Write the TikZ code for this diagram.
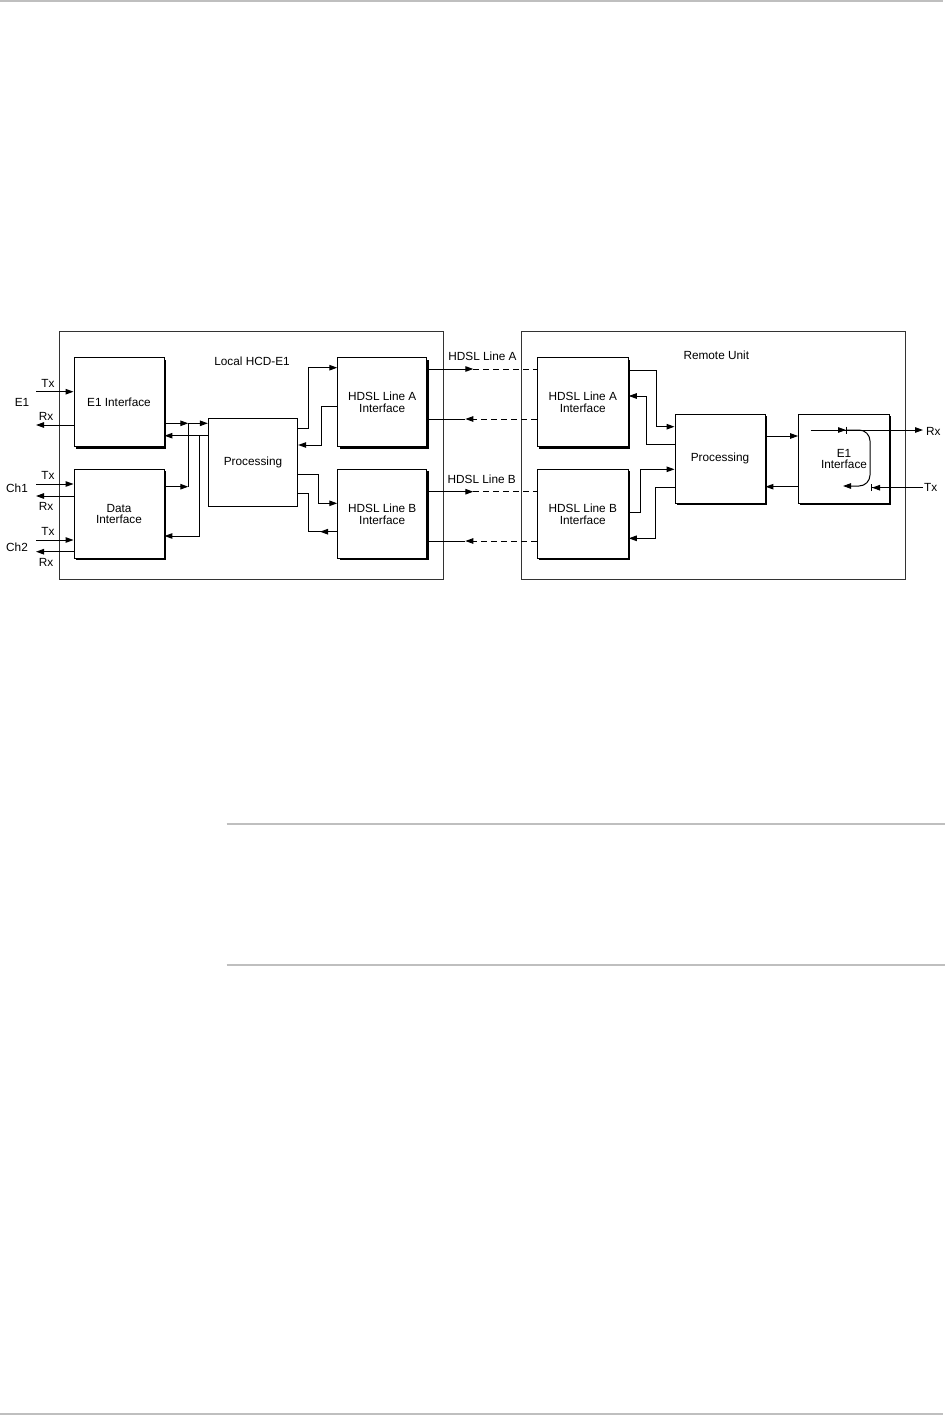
\documentclass[tikz,border=0pt]{standalone}
\usepackage{fontspec}
\setmainfont{Liberation Sans}
\usetikzlibrary{arrows.meta,shadows}
\begin{document}
\begin{tikzpicture}[x=1pt,y=-1pt,
  font=\fontsize{11.8}{11.6}\selectfont,
  blk/.style={draw, fill=white, line width=0.9pt, inner sep=0pt, align=center,
    drop shadow={shadow xshift=1.8pt, shadow yshift=-1.8pt, opacity=1, fill=black}},
  pbox/.style={draw, fill=white, line width=0.9pt, inner sep=0pt, align=center},
  frame/.style={draw=black!80, line width=0.9pt, inner sep=0pt},
  conn/.style={line width=1pt},
  arr/.style={conn, -{Triangle[length=8pt,width=5.5pt]}},
  barr/.style={conn, -{Triangle[length=8pt,width=5.5pt] Bar[width=7pt]}},
  dline/.style={conn, dash pattern=on 6pt off 4pt},
  rule/.style={draw=black!25, line width=2pt},
  lbl/.style={inner sep=0pt},
]
\useasboundingbox (0,0) rectangle (945,1415);

% gray rules
\coordinate (r1a) at (0,1);     \coordinate (r1b) at (943,1);
\coordinate (r2a) at (226.7,824); \coordinate (r2b) at (945,824);
\coordinate (r3a) at (226.7,965); \coordinate (r3b) at (945,965);
\coordinate (r4a) at (0,1413.5);  \coordinate (r4b) at (943,1413.5);
\draw[rule] (r1a) -- (r1b);
\draw[rule] (r2a) -- (r2b);
\draw[rule] (r3a) -- (r3b);
\draw[rule] (r4a) -- (r4b);

% frames
\node[frame, minimum width=384pt, minimum height=248pt] (localF) at (251,455) {};
\node[frame, minimum width=384pt, minimum height=248pt] (remoteF) at (713,455) {};
\node[lbl] (localT) at (252,361.7) {Local HCD-E1};
\node[lbl] (remoteT) at (716.3,355) {Remote Unit};

% local blocks
\node[blk, minimum width=90pt, minimum height=89pt] (e1L) at (119,402.2) {E1 Interface};
\node[blk, minimum width=90pt, minimum height=89pt] (dataL) at (119,514) {Data\\Interface};
\node[pbox, minimum width=89.4pt, minimum height=88pt] (procL) at (253,462.7) {Processing};
\node[blk, minimum width=89pt, minimum height=89pt] (hA) at (382.2,402.2) {HDSL Line A\\Interface};
\node[blk, minimum width=89pt, minimum height=89pt] (hB) at (382.2,514) {HDSL Line B\\Interface};

% remote blocks
\node[blk, minimum width=91pt, minimum height=89pt] (rA) at (582.8,402.2) {HDSL Line A\\Interface};
\node[blk, minimum width=91pt, minimum height=89pt] (rB) at (582.8,514) {HDSL Line B\\Interface};
\node[blk, minimum width=90pt, minimum height=89pt] (procR) at (720,458.8) {Processing};
\node[blk, minimum width=90.8pt, minimum height=89pt] (e1R) at (844,458.8) {E1\\Interface};

% left side labels
\node[lbl] (lE1) at (22,402.7) {E1};
\node[lbl] (lCh1) at (17,488) {Ch1};
\node[lbl] (lCh2) at (17,547.7) {Ch2};
\node[lbl] (tx1) at (48,383) {Tx};
\node[lbl] (rx1) at (46,416.7) {Rx};
\node[lbl] (tx2) at (48,475) {Tx};
\node[lbl] (rx2) at (46,506.7) {Rx};
\node[lbl] (tx3) at (48,531.7) {Tx};
\node[lbl] (rx3) at (46,562.7) {Rx};

% left side I/O
\coordinate (iTx1) at (36,391.7);
\coordinate (iRx1) at (36,425);
\coordinate (iTx2) at (36,484);
\coordinate (iRx2) at (36,496);
\coordinate (iTx3) at (36,540);
\coordinate (iRx3) at (36,551.7);
\draw[arr] (iTx1) -- (e1L.west |- iTx1);
\draw[arr] (e1L.west |- iRx1) -- (iRx1);
\draw[arr] (iTx2) -- (dataL.west |- iTx2);
\draw[arr] (dataL.west |- iRx2) -- (iRx2);
\draw[arr] (iTx3) -- (dataL.west |- iTx3);
\draw[arr] (dataL.west |- iRx3) -- (iRx3);

% E1/Data <-> Processing (local)
\coordinate (j1) at (188.3,423.3);
\coordinate (j2) at (188.3,486.7);
\coordinate (j3) at (199,435.7);
\coordinate (j4) at (199,536);
\draw[arr] (e1L.east |- j1) -- (j1);
\draw[arr] (j1) -- (procL.west |- j1);
\draw[arr] (dataL.east |- j2) -- (j2);
\draw[conn] (j2) -- (j1);
\draw[arr] (procL.west |- j3) -- (e1L.east |- j3);
\draw[arr] (j3) -- (j4) -- (dataL.east |- j4);

% Processing <-> HDSL (local)
\coordinate (a1) at (308.3,428.3); \coordinate (a2) at (308.3,367.7);
\coordinate (b1) at (321.7,406.7); \coordinate (b2) at (321.7,445);
\coordinate (c1) at (318.3,474.3); \coordinate (c2) at (318.3,503.3);
\coordinate (d1) at (308.3,531.7); \coordinate (d2) at (308.3,493.3);
\coordinate (d1m) at (320,531.7);
\draw[arr] (procL.east |- a1) -- (a1) -- (a2) -- (hA.west |- a2);
\draw[arr] (hA.west |- b1) -- (b1) -- (b2) -- (procL.east |- b2);
\draw[arr] (procL.east |- c1) -- (c1) -- (c2) -- (hB.west |- c2);
\draw[conn] (hB.west |- d1) -- (d1) -- (d2) -- (procL.east |- d2);
\draw[arr] (hB.west |- d1) -- (d1m);

% HDSL lines
\coordinate (la) at (473.3,369);
\coordinate (lar) at (473.3,419);
\coordinate (lart) at (465.3,419);
\coordinate (lb) at (473.3,491.7);
\coordinate (lbr) at (473.3,541);
\coordinate (lbrt) at (465.3,541);
\draw[arr] (hA.east |- la) -- (la);
\draw[dline] (la) -- (rA.west |- la);
\draw[dline] (rA.west |- lar) -- (lar);
\draw[arr] (lar) -- (lart);
\draw[conn] (lart) -- (hA.east |- lart);
\draw[arr] (hB.east |- lb) -- (lb);
\draw[dline] (lb) -- (rB.west |- lb);
\draw[dline] (rB.west |- lbr) -- (lbr);
\draw[arr] (lbr) -- (lbrt);
\draw[conn] (lbrt) -- (hB.east |- lbrt);
\node[lbl] (labA) at (482.5,356.7) {HDSL Line A};
\node[lbl] (labB) at (481.7,479.3) {HDSL Line B};

% remote HDSL <-> Processing
\coordinate (e1) at (656,370.7); \coordinate (e2) at (656,426.7);
\coordinate (f1) at (646,444);   \coordinate (f2) at (646,396);
\coordinate (g1) at (640,512.3); \coordinate (g2) at (640,469.3);
\coordinate (h1) at (655,487.7); \coordinate (h2) at (655,538.3);
\draw[arr] (rA.east |- e1) -- (e1) -- (e2) -- (procR.west |- e2);
\draw[arr] (procR.west |- f1) -- (f1) -- (f2) -- (rA.east |- f2);
\draw[arr] (rB.east |- g1) -- (g1) -- (g2) -- (procR.west |- g2);
\draw[arr] (procR.west |- h1) -- (h1) -- (h2) -- (rB.east |- h2);

% remote Processing <-> E1
\coordinate (k1) at (0,436);
\coordinate (k2) at (0,486.7);
\draw[arr] (procR.east |- k1) -- (e1R.west |- k1);
\draw[arr] (e1R.west |- k2) -- (procR.east |- k2);

% inside remote E1 and outputs
\coordinate (m0) at (810.7,430);
\coordinate (m1) at (847,430);
\coordinate (m2) at (870,430);
\coordinate (m3) at (870,486);
\coordinate (m4) at (843,486);
\coordinate (oRx) at (923,430);
\coordinate (oTx) at (923,487.7);
\coordinate (tBar) at (871,487.7);
\node[lbl, anchor=west] (lRx) at (926,431) {Rx};
\node[lbl, anchor=west] (lTx) at (924,487.7) {Tx};
\draw[barr] (m0) -- (m1);
\draw[arr] (m1) -- (oRx);
\draw[arr, rounded corners=11pt] (m1) -- (m2) -- (m3) -- (m4);
\draw[barr] (oTx) -- (tBar);
\end{tikzpicture}
\end{document}
